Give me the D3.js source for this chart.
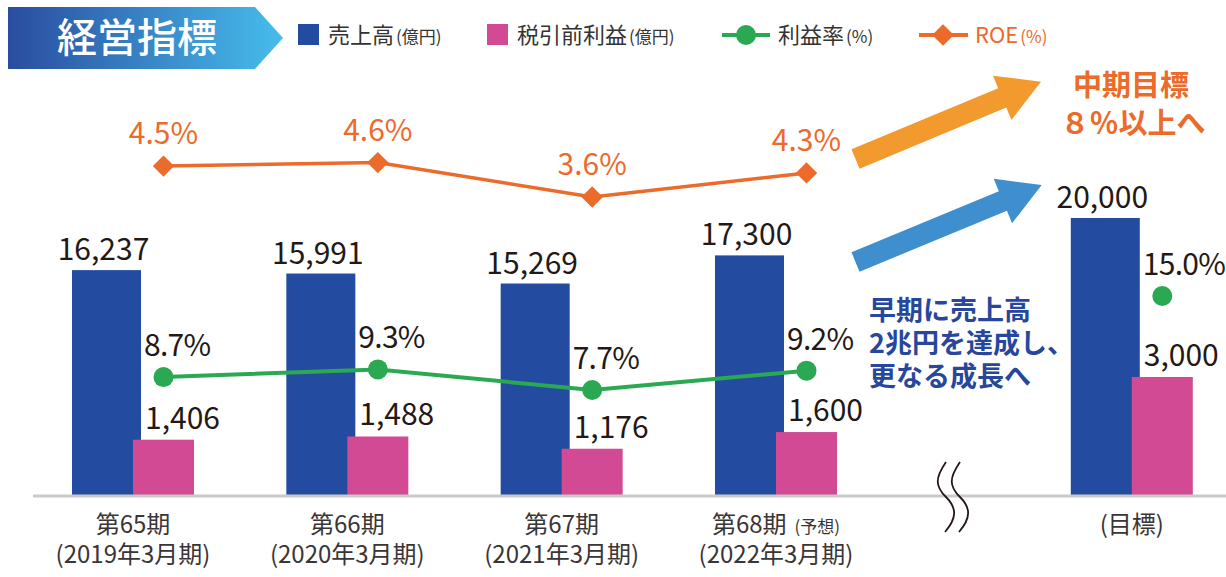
<!DOCTYPE html>
<html>
<head>
<meta charset="utf-8">
<script src="https://cdn.jsdelivr.net/npm/d3@7"></script>
<style>
  body { margin: 0; background: #fff; }
  svg { display: block; font-family: "Noto Sans CJK JP", "Noto Sans", sans-serif; }
</style>
</head>
<body>
<svg id="chart" width="1226" height="577"></svg>
<script>
// データ
const periods = ["第65期", "第66期", "第67期", "第68期", "目標"];
const periodSub = ["(2019年3月期)", "(2020年3月期)", "(2021年3月期)", "(2022年3月期)", ""];
const sales = [16237, 15991, 15269, 17300, 20000];     // 売上高(億円)
const pretax = [1406, 1488, 1176, 1600, 3000];         // 税引前利益(億円)
const margin = [8.7, 9.3, 7.7, 9.2, 15.0];             // 利益率(%)
const roe = [4.5, 4.6, 3.6, 4.3];                      // ROE(%)

const colors = { sales: "#234ca0", pretax: "#d14a93", margin: "#2aa952", roe: "#ec6a2a", text: "#231815" };

const svg = d3.select("#chart");

// 目標は省略記号の後ろに置く
const slot = i => i < 4 ? i : 4.66;
const x = d3.scaleLinear().domain([0, 3]).range([133, 776]); // グループ中心
const blueW = 69, pinkW = 61;

const ySales = d3.scaleLinear().domain([0, 20000]).range([495, 218]);
const yPretax = d3.scaleLinear().domain([0, 3000]).range([495, 377]);
const yMargin = d3.scaleLinear().domain([7.7, 15]).range([390, 296]);
const yRoe = d3.scaleLinear().domain([3.6, 4.6]).range([197, 162.6]);

const fmt = d3.format(",");
const data = periods.map((p, i) => ({ i, p, sub: periodSub[i], sales: sales[i], pretax: pretax[i], margin: margin[i], roe: roe[i] }));
const cx = d => x(slot(d.i));
const mx = d => cx(d) + pinkW / 2;

// タイトル
const grad = svg.append("defs").append("linearGradient").attr("id", "tg");
grad.append("stop").attr("offset", "0%").attr("stop-color", "#2a4c9f");
grad.append("stop").attr("offset", "100%").attr("stop-color", "#46bdec");
svg.append("path").attr("d", "M8,7 L255,7 L283,38 L255,69 L8,69 Z").attr("fill", "url(#tg)");
svg.append("text").attr("x", 137).attr("y", 52).attr("text-anchor", "middle")
  .attr("fill", "#fff").attr("font-size", 40).attr("font-weight", 500).text("経営指標");

// 凡例
const small = t => `<tspan font-size="17" dx="2">${t}</tspan>`;
const lg = svg.append("g").attr("font-size", 22).attr("fill", "#333");
lg.append("rect").attr("x", 298).attr("y", 24).attr("width", 21).attr("height", 21).attr("fill", colors.sales);
lg.append("text").attr("x", 328).attr("y", 43).html('売上高' + small("(億円)"));
lg.append("rect").attr("x", 487).attr("y", 24).attr("width", 21).attr("height", 21).attr("fill", colors.pretax);
lg.append("text").attr("x", 517).attr("y", 43).html('税引前利益' + small("(億円)"));
lg.append("line").attr("x1", 722).attr("x2", 770).attr("y1", 35).attr("y2", 35).attr("stroke", colors.margin).attr("stroke-width", 4);
lg.append("circle").attr("cx", 746).attr("cy", 35).attr("r", 10).attr("fill", colors.margin);
lg.append("text").attr("x", 778).attr("y", 43).html('利益率' + small("(%)"));
lg.append("line").attr("x1", 919).attr("x2", 968).attr("y1", 35).attr("y2", 35).attr("stroke", colors.roe).attr("stroke-width", 4);
lg.append("path").attr("d", d3.symbol(d3.symbolDiamond2, 300)()).attr("transform", "translate(943,35)").attr("fill", colors.roe);
lg.append("text").attr("x", 975).attr("y", 43).attr("fill", colors.roe).html('ROE' + small("(%)"));

// 棒グラフ
svg.selectAll("rect.sales").data(data).join("rect").attr("class", "sales")
  .attr("x", d => cx(d) - pinkW).attr("width", blueW)
  .attr("y", d => ySales(d.sales)).attr("height", d => ySales(0) - ySales(d.sales))
  .attr("fill", colors.sales);
svg.selectAll("rect.pretax").data(data).join("rect").attr("class", "pretax")
  .attr("x", d => cx(d)).attr("width", pinkW)
  .attr("y", d => yPretax(d.pretax)).attr("height", d => yPretax(0) - yPretax(d.pretax))
  .attr("fill", colors.pretax);

// 軸
svg.append("line").attr("x1", 33).attr("x2", 1226).attr("y1", 496).attr("y2", 496)
  .attr("stroke", "#c9caca").attr("stroke-width", 3);

// 省略記号
[0, 14].forEach(o => {
  const bx = 946 + o;
  svg.append("path")
    .attr("d", `M${bx},462 C${bx - 11},478 ${bx - 11},486 ${bx},497 C${bx + 11},508 ${bx + 11},518 ${bx - 1},532`)
    .attr("fill", "none").attr("stroke", colors.text).attr("stroke-width", 1.8);
});

// 数値ラベル
const vl = svg.append("g").attr("font-size", 30).attr("fill", colors.text);
vl.selectAll("text.s").data(data).join("text").attr("class", "s")
  .attr("x", d => cx(d) - pinkW + blueW / 2 - 3).attr("y", d => ySales(d.sales) - 10)
  .attr("text-anchor", "middle").text(d => fmt(d.sales));
vl.selectAll("text.p").data(data).join("text").attr("class", "p")
  .attr("x", d => cx(d) + 12).attr("y", d => yPretax(d.pretax) - 11)
  .text(d => fmt(d.pretax));

// 利益率
const ml = data.filter(d => d.i < 4);
svg.append("path").datum(ml)
  .attr("d", d3.line().x(mx).y(d => yMargin(d.margin)))
  .attr("fill", "none").attr("stroke", colors.margin).attr("stroke-width", 4);
svg.selectAll("circle.m").data(data).join("circle").attr("class", "m")
  .attr("cx", mx).attr("cy", d => yMargin(d.margin)).attr("r", 10).attr("fill", colors.margin);
vl.selectAll("text.m").data(data).join("text").attr("class", "m")
  .attr("x", d => cx(d) + 11).attr("y", d => yMargin(d.margin) - 21)
  .attr("letter-spacing", -0.7)
  .text(d => d.margin.toFixed(1) + "%");

// ROE
const rl = data.filter(d => d.roe != null);
svg.append("path").datum(rl)
  .attr("d", d3.line().x(mx).y(d => yRoe(d.roe)))
  .attr("fill", "none").attr("stroke", colors.roe).attr("stroke-width", 3.5);
svg.selectAll("path.r").data(rl).join("path").attr("class", "r")
  .attr("d", d3.symbol(d3.symbolDiamond2, 290)())
  .attr("transform", d => `translate(${mx(d)},${yRoe(d.roe)})`).attr("fill", colors.roe);
svg.append("g").attr("font-size", 30).attr("fill", colors.roe)
  .selectAll("text").data(rl).join("text")
  .attr("x", mx).attr("y", d => yRoe(d.roe) - 22).attr("text-anchor", "middle")
  .text(d => d.roe.toFixed(1) + "%");

// カテゴリラベル
const xl = svg.append("g").attr("font-size", 24).attr("fill", "#3a3536").attr("text-anchor", "middle");
data.forEach(d => {
  if (d.i === 4) {
    xl.append("text").attr("x", cx(d)).attr("y", 533).text("(目標)");
  } else if (d.i === 3) {
    xl.append("text").attr("x", cx(d)).attr("y", 533).html(d.p + '<tspan font-size="17" dx="8">(予想)</tspan>');
    xl.append("text").attr("x", cx(d)).attr("y", 563).text(d.sub);
  } else {
    xl.append("text").attr("x", cx(d)).attr("y", 533).text(d.p);
    xl.append("text").attr("x", cx(d)).attr("y", 563).text(d.sub);
  }
});

// 矢印
function arrow(tail, tip, shaftW, headW, headL, fill) {
  const dx = tip[0] - tail[0], dy = tip[1] - tail[1];
  const len = Math.hypot(dx, dy), ux = dx / len, uy = dy / len, nx = -uy, ny = ux;
  const b = [tip[0] - ux * headL, tip[1] - uy * headL];
  const p = (o, k) => [o[0] + nx * k, o[1] + ny * k];
  const pts = [p(tail, shaftW / 2), p(b, shaftW / 2), p(b, headW / 2), tip, p(b, -headW / 2), p(b, -shaftW / 2), p(tail, -shaftW / 2)];
  svg.append("path").attr("d", d3.line()(pts) + "Z").attr("fill", fill);
}
arrow([855.5, 159], [1041, 81.7], 21, 48, 42, "#f29a2e");
arrow([855.5, 262], [1041.7, 185], 21, 48, 42, "#3f8fcf");

// 注記
const ot = svg.append("g").attr("font-size", 29).attr("font-weight", 700).attr("fill", colors.roe).attr("text-anchor", "middle");
ot.append("text").attr("x", 1131).attr("y", 96).text("中期目標");
ot.append("text").attr("x", 1133).attr("y", 134).text("８％以上へ");

const bt = svg.append("g").attr("font-size", 27).attr("font-weight", 700).attr("fill", "#27479c");
["早期に売上高", "2兆円を達成し、", "更なる成長へ"].forEach((t, k) => {
  bt.append("text").attr("x", 869).attr("y", 320 + k * 33).text(t);
});
</script>
</body>
</html>
